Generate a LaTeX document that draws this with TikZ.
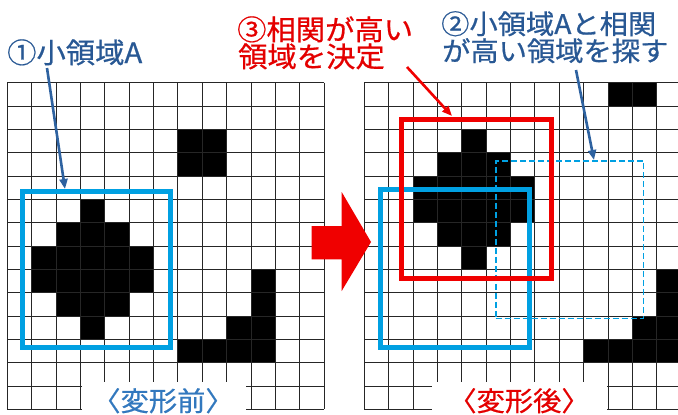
\documentclass[tikz,border=0pt]{standalone}
\usepackage{fontspec}
\usepackage{graphicx}
\newfontfamily\jp{Noto Sans CJK JP}[FakeBold=0.6]
\usetikzlibrary{arrows.meta}
\definecolor{txtblue}{RGB}{40,88,148}
\definecolor{lblblue}{RGB}{50,120,190}
\definecolor{arrblue}{RGB}{46,98,160}
\definecolor{boxcyan}{RGB}{0,160,226}
\definecolor{myred}{RGB}{240,0,0}
\definecolor{txtred}{RGB}{228,0,0}
\tikzset{
  gridline/.style={draw=black!85, line width=1pt},
  jptext/.style={font=\jp\fontsize{28}{28}\selectfont, inner sep=0pt},
  jptextb/.style={font=\jp\fontsize{27}{27}\selectfont, inner sep=0pt},
  cyanbox/.style={draw=boxcyan, line width=5pt},
  dashbox/.style={draw=boxcyan, line width=1.6pt, dash pattern=on 6pt off 3pt},
  redbox/.style={draw=myred, line width=5pt},
  callout/.style={line width=2.6pt, -{Triangle[width=8pt,length=10pt]}},
}
\begin{document}
\begin{tikzpicture}[x=1pt,y=-1pt]
\useasboundingbox (0,0) rectangle (678,415);
\fill[white] (0,0) rectangle (678,415);

% ---------- left grid (before) ----------
\begin{scope}[shift={(7.3pt,-82.7pt)},x=24.385pt,y=-23.333pt]
  \fill[black] (7,2) rectangle (9,4);
  \fill[black] (3,5)--(4,5)--(4,6)--(5,6)--(5,7)--(6,7)--(6,9)--(5,9)--(5,10)--(4,10)--(4,11)--(3,11)--(3,10)--(2,10)--(2,9)--(1,9)--(1,7)--(2,7)--(2,6)--(3,6)--cycle;
  \fill[black] (10,8)--(11,8)--(11,12)--(7,12)--(7,11)--(9,11)--(9,10)--(10,10)--cycle;
  \foreach \i in {0,...,13} \draw[gridline] (\i,0) -- (\i,14);
  \foreach \j in {0,...,14} \draw[gridline] (0,\j) -- (13,\j);
\end{scope}

% ---------- right grid (after) ----------
\begin{scope}
\clip (0,0) rectangle (678,415);
\begin{scope}[shift={(364.3pt,-82.7pt)},x=24.385pt,y=-23.333pt]
  \fill[black] (10,0) rectangle (12,1);
  \fill[black] (4,2)--(5,2)--(5,3)--(6,3)--(6,4)--(7,4)--(7,6)--(6,6)--(6,7)--(5,7)--(5,8)--(4,8)--(4,7)--(3,7)--(3,6)--(2,6)--(2,4)--(3,4)--(3,3)--(4,3)--cycle;
  \fill[black] (12,8)--(13,8)--(13,12)--(9,12)--(9,11)--(11,11)--(11,10)--(12,10)--cycle;
  \foreach \i in {0,...,13} \draw[gridline] (\i,0) -- (\i,14);
  \foreach \j in {0,...,14} \draw[gridline] (0,\j) -- (13,\j);
\end{scope}
\end{scope}

% ---------- label backgrounds ----------
\fill[white] (82,382) rectangle (245.5,415);
\fill[white] (432,382) rectangle (607,415);

% ---------- regions ----------
\node[cyanbox, minimum width=148.4pt, minimum height=156.3pt, inner sep=0pt] (boxA) at (96.5,269.2) {};
\node[cyanbox, minimum width=148.3pt, minimum height=158pt, inner sep=0pt] (boxB) at (454.85,268.3) {};
\node[dashbox, minimum width=147.6pt, minimum height=157.6pt, inner sep=0pt] (boxS) at (569.5,239.5) {};
\node[redbox, minimum width=149.3pt, minimum height=158.7pt, inner sep=0pt] (boxR) at (476.35,198.65) {};

% ---------- big red arrow ----------
\fill[myred] (311.7,226)--(341.7,226)--(341.7,192)--(371,242)--(341.7,291)--(341.7,259.3)--(311.7,259.3)--cycle;

% ---------- texts ----------
\node[jptext, text=txtblue, anchor=base west] (t1) at (7,63) {\scalebox{1.047}[1]{①小領域A}};
\node[jptext, text=txtred, anchor=base west] (t3a) at (237,40) {\scalebox{1.047}[1]{③相関が高い}};
\node[jptext, text=txtred, anchor=base west] (t3b) at (238,67) {\scalebox{1.047}[1]{領域を決定}};
\node[jptextb, text=txtblue, anchor=base west] (t2a) at (441,34) {\scalebox{1.047}[1]{②小領域Aと相関}};
\node[jptextb, text=txtblue, anchor=base west] (t2b) at (442,61) {\scalebox{1.047}[1]{が高い領域を探す}};
\node[jptextb, text=lblblue, anchor=base] (lb1) at (163,411) {\scalebox{1.047}[1]{〈変形前〉}};
\node[jptextb, text=txtred, anchor=base] (lb2) at (519,411) {\scalebox{1.047}[1]{〈変形後〉}};

% ---------- callout arrows ----------
\coordinate (a1s) at (47,68);  \coordinate (a1e) at (65,189);
\coordinate (a3s) at (407,67); \coordinate (a3e) at (452,116);
\coordinate (a2s) at (576,70); \coordinate (a2e) at (594,160);
\draw[callout, draw=arrblue, fill=arrblue] (a1s) -- (a1e);
\draw[callout, draw=myred, fill=myred] (a3s) -- (a3e);
\draw[callout, draw=arrblue, fill=arrblue] (a2s) -- (a2e);
\end{tikzpicture}
\end{document}
